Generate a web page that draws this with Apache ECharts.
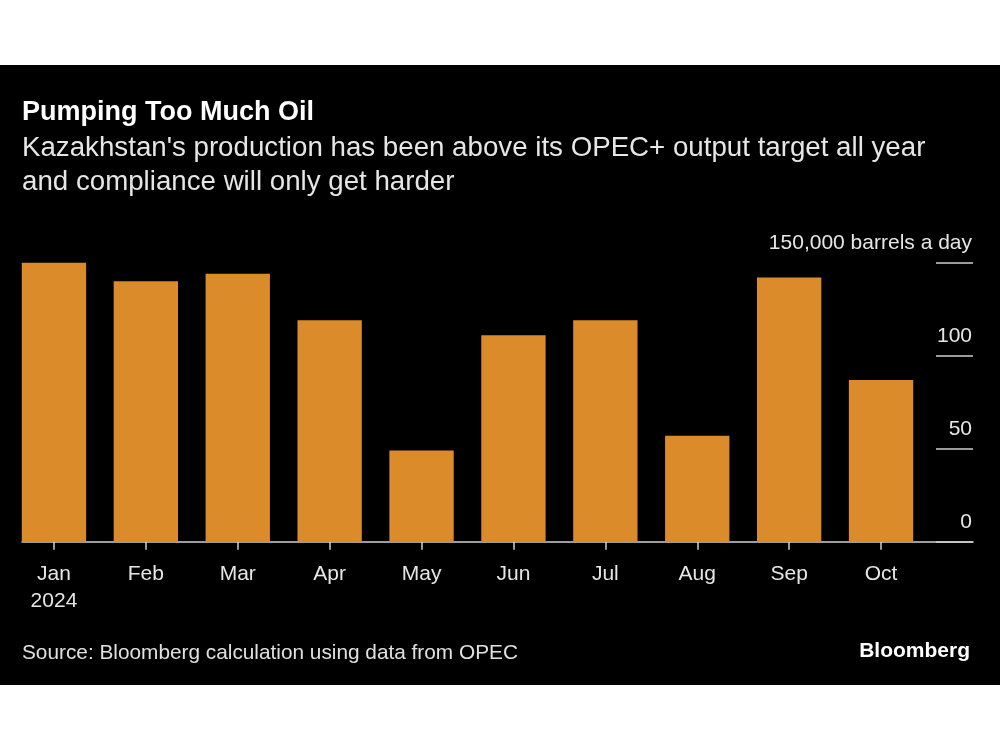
<!DOCTYPE html>
<html>
<head>
<meta charset="utf-8">
<script src="https://cdn.jsdelivr.net/npm/echarts@6/dist/echarts.min.js"></script>
<style>
html,body{margin:0;padding:0;background:#fff;width:1000px;height:750px;overflow:hidden;}
#frame{position:absolute;left:0;top:65px;width:1000px;height:620px;background:#000;}
#chart{width:1000px;height:620px;}
</style>
</head>
<body>
<div id="frame"><div id="chart"></div></div>
<script>
const categories = ['Jan','Feb','Mar','Apr','May','Jun','Jul','Aug','Sep','Oct'];
const excessOutput = [151, 140, 144, 119, 49, 111, 119, 57, 142, 87];
const yTicks = [0, 50, 100, 150];
const titleText = 'Pumping Too Much Oil';
const subtitleText = "Kazakhstan's production has been above its OPEC+ output target all year\nand compliance will only get harder";
const sourceText = 'Source: Bloomberg calculation using data from OPEC';
const unitLabel = '150,000 barrels a day';

const FONT = '"Liberation Sans", Arial, Helvetica, sans-serif';
const chart = echarts.init(document.getElementById('chart'), null, {renderer:'canvas'});
const gridTop = 197.7, gridBottom = 143.3;

chart.setOption({
  backgroundColor: '#000',
  animation: false,
  title: [
    {text: titleText, left: 22, top: 34, padding:0, textStyle:{color:'#fff', fontFamily:FONT, fontWeight:'bold', fontSize:27}},
    {text: subtitleText, left: 22, top: 66, padding:0, textStyle:{color:'#e6e6e6', fontFamily:FONT, fontWeight:'normal', fontSize:27.7, lineHeight:34}},
    {text: sourceText, left: 22, top: 578, padding:0, textStyle:{color:'#e0e0e0', fontFamily:FONT, fontWeight:'normal', fontSize:20.8}},
    {text: 'Bloomberg', right: 30, top: 576, padding:0, textStyle:{color:'#fff', fontFamily:FONT, fontWeight:'bold', fontSize:21}}
  ],
  grid: [
    {left: 8, right: 73, top: gridTop, bottom: gridBottom},
    {left: 22, right: 27, top: gridTop, bottom: gridBottom},
    {left: 936, right: 27, top: gridTop, bottom: gridBottom}
  ],
  xAxis: [
    {type:'category', gridIndex:0, data: categories, boundaryGap:true,
     axisLine:{show:false},
     axisTick:{show:true, alignWithLabel:true, length:8, lineStyle:{color:'#cfcfcf', width:1.5}},
     axisLabel:{color:'#e6e6e6', fontFamily:FONT, fontSize:21, margin:19, lineHeight:27,
       formatter:(v,i)=> i===0 ? v+'\n2024' : v}},
    {type:'value', gridIndex:1, min:0, max:1, axisLine:{show:true, onZero:false, lineStyle:{color:'#cfcfcf', width:1.5}},
     axisTick:{show:false}, axisLabel:{show:false}, splitLine:{show:false}},
    {type:'value', gridIndex:2, min:0, max:1, axisLine:{show:false}, axisTick:{show:false}, axisLabel:{show:false}, splitLine:{show:false}}
  ],
  yAxis: [
    {type:'value', gridIndex:0, min:0, max:150, interval:50, show:false, splitLine:{show:false}},
    {type:'value', gridIndex:1, min:0, max:150, interval:50, show:false, splitLine:{show:false}},
    {type:'value', gridIndex:2, min:0, max:150, interval:50, position:'right',
     axisLine:{show:false}, axisTick:{show:false},
     splitLine:{show:true, lineStyle:{color:'#cfcfcf', width:1.5}},
     axisLabel:{inside:true, margin:1, color:'#e6e6e6', fontFamily:FONT, fontSize:21, verticalAlign:'bottom', padding:[0,0,9,0],
       formatter:(v)=> v===150 ? unitLabel : String(v)}}
  ],
  series: [
    {type:'bar', xAxisIndex:0, yAxisIndex:0, data: excessOutput, barWidth:'70%',
     itemStyle:{color:'#dc8b2a'}}
  ]
});
</script>
</body>
</html>
